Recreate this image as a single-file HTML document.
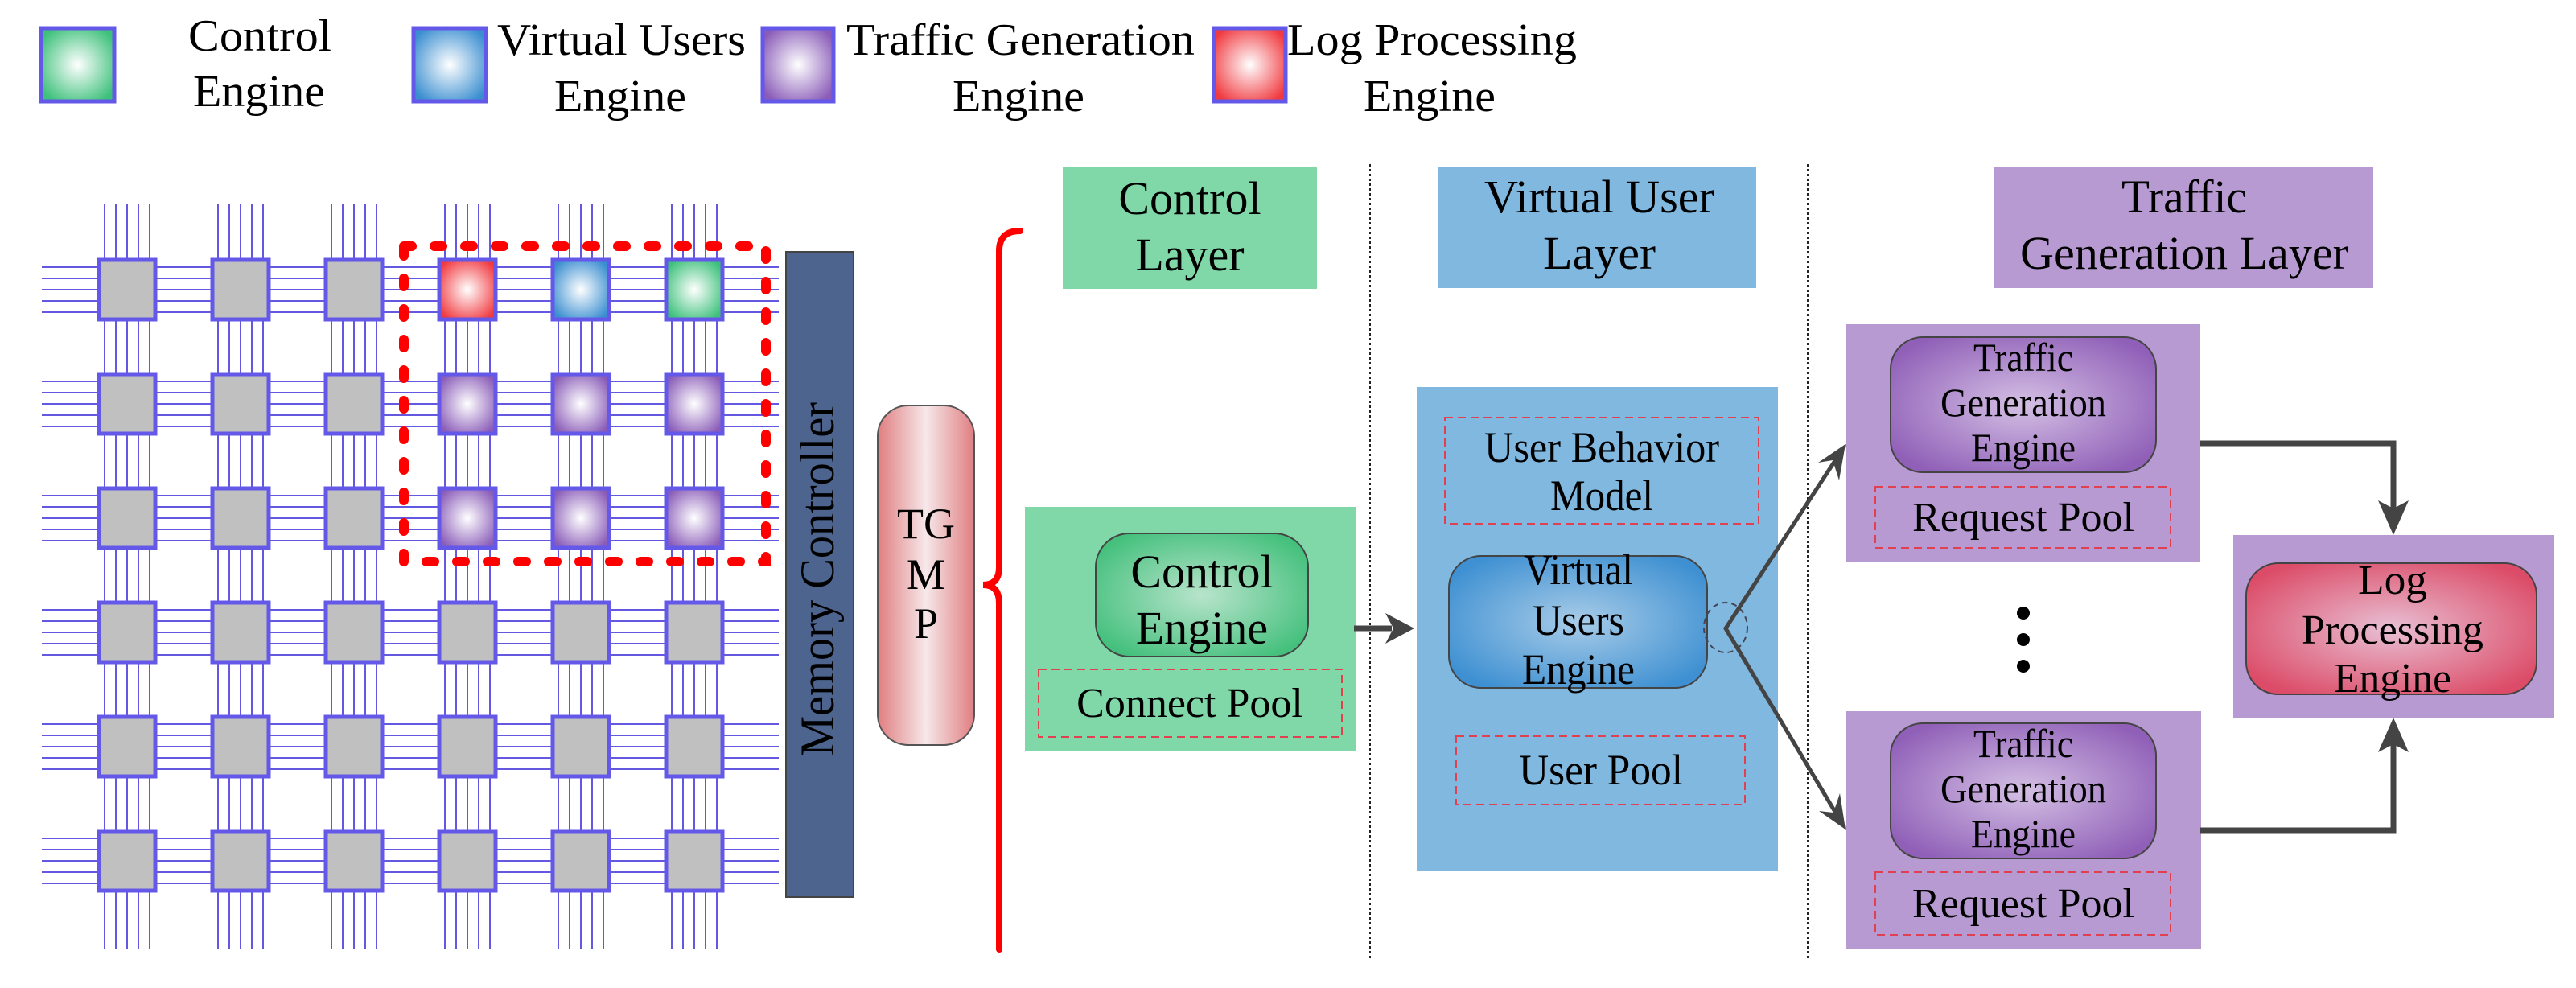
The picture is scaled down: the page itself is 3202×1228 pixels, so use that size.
<!DOCTYPE html>
<html><head><meta charset="utf-8"><style>
html,body{margin:0;padding:0;background:#fff;}
svg{display:block;font-family:"Liberation Serif","DejaVu Serif",serif;}
svg text{font-family:"Liberation Serif","DejaVu Serif",serif;fill:#000;}
</style></head><body>
<svg width="3202" height="1228" viewBox="0 0 3202 1228" xmlns="http://www.w3.org/2000/svg" font-family="Liberation Serif, DejaVu Serif, serif">
<defs>
<radialGradient id="gG" cx="50%" cy="50%" r="60%"><stop offset="0" stop-color="#ffffff"/><stop offset="1" stop-color="#3cc07a"/></radialGradient>
<radialGradient id="gB" cx="50%" cy="50%" r="60%"><stop offset="0" stop-color="#ffffff"/><stop offset="1" stop-color="#3a8ed0"/></radialGradient>
<radialGradient id="gP" cx="50%" cy="50%" r="60%"><stop offset="0" stop-color="#ffffff"/><stop offset="1" stop-color="#8a5cb8"/></radialGradient>
<radialGradient id="gR" cx="50%" cy="50%" r="60%"><stop offset="0" stop-color="#ffffff"/><stop offset="1" stop-color="#f03a40"/></radialGradient>
<radialGradient id="eG" cx="50%" cy="50%" r="60%"><stop offset="0" stop-color="#b8e4cc"/><stop offset="1" stop-color="#44c07c"/></radialGradient>
<radialGradient id="eB" cx="50%" cy="50%" r="60%"><stop offset="0" stop-color="#a8cce8"/><stop offset="1" stop-color="#3e90d2"/></radialGradient>
<radialGradient id="eP" cx="50%" cy="50%" r="60%"><stop offset="0" stop-color="#d4c0e4"/><stop offset="1" stop-color="#9060b8"/></radialGradient>
<radialGradient id="eR" cx="50%" cy="50%" r="60%"><stop offset="0" stop-color="#e8c0d4"/><stop offset="1" stop-color="#dc4c68"/></radialGradient>
<linearGradient id="eT" x1="0" y1="0" x2="1" y2="0"><stop offset="0" stop-color="#e07e80"/><stop offset="0.5" stop-color="#f6e8ea"/><stop offset="1" stop-color="#e07e80"/></linearGradient>
</defs>

<!-- Legend -->
<rect x="51" y="35" width="91" height="91" fill="url(#gG)" stroke="#6458e8" stroke-width="5"/>
<rect x="514" y="35" width="90" height="91" fill="url(#gB)" stroke="#6458e8" stroke-width="5"/>
<rect x="948" y="35" width="88" height="91" fill="url(#gP)" stroke="#6458e8" stroke-width="5"/>
<rect x="1509" y="35" width="89" height="91" fill="url(#gR)" stroke="#6458e8" stroke-width="5"/>
<g font-size="56">
<text x="234" y="63" textLength="178" lengthAdjust="spacingAndGlyphs">Control</text>
<text x="240" y="132" textLength="164" lengthAdjust="spacingAndGlyphs">Engine</text>
<text x="618" y="68" textLength="309" lengthAdjust="spacingAndGlyphs">Virtual Users</text>
<text x="689" y="138" textLength="164" lengthAdjust="spacingAndGlyphs">Engine</text>
<text x="1052" y="68" textLength="433" lengthAdjust="spacingAndGlyphs">Traffic Generation</text>
<text x="1184" y="138" textLength="164" lengthAdjust="spacingAndGlyphs">Engine</text>
<text x="1600" y="68" textLength="360" lengthAdjust="spacingAndGlyphs">Log Processing</text>
<text x="1695" y="138" textLength="164" lengthAdjust="spacingAndGlyphs">Engine</text>
</g>

<!-- Grid lines -->
<g stroke="#6458e0" stroke-width="2">
<g id="hl">
<line x1="52" y1="332" x2="968" y2="332"/><line x1="52" y1="346" x2="968" y2="346"/><line x1="52" y1="360" x2="968" y2="360"/><line x1="52" y1="374" x2="968" y2="374"/><line x1="52" y1="388" x2="968" y2="388"/>
</g>
<use href="#hl" y="142"/><use href="#hl" y="284"/><use href="#hl" y="426"/><use href="#hl" y="568"/><use href="#hl" y="710"/>
<g id="vl">
<line x1="130" y1="253" x2="130" y2="1180"/><line x1="144" y1="253" x2="144" y2="1180"/><line x1="158" y1="253" x2="158" y2="1180"/><line x1="172" y1="253" x2="172" y2="1180"/><line x1="186" y1="253" x2="186" y2="1180"/>
</g>
<use href="#vl" x="141"/><use href="#vl" x="282"/><use href="#vl" x="423"/><use href="#vl" x="564"/><use href="#vl" x="705"/>
</g>
<!-- Grid boxes -->
<g fill="#c0c0c0" stroke="#6458e8" stroke-width="5">
<g id="rw">
<rect x="123" y="323" width="70" height="74"/><rect x="264" y="323" width="70" height="74"/><rect x="405" y="323" width="70" height="74"/><rect x="546" y="323" width="70" height="74"/><rect x="687" y="323" width="70" height="74"/><rect x="828" y="323" width="70" height="74"/>
</g>
<use href="#rw" y="142"/><use href="#rw" y="284"/><use href="#rw" y="426"/><use href="#rw" y="568"/><use href="#rw" y="710"/>
</g>
<g stroke="#6458e8" stroke-width="5">
<rect x="546" y="323" width="70" height="74" fill="url(#gR)"/>
<rect x="687" y="323" width="70" height="74" fill="url(#gB)"/>
<rect x="828" y="323" width="70" height="74" fill="url(#gG)"/>
<rect x="546" y="465" width="70" height="74" fill="url(#gP)"/>
<rect x="687" y="465" width="70" height="74" fill="url(#gP)"/>
<rect x="828" y="465" width="70" height="74" fill="url(#gP)"/>
<rect x="546" y="607" width="70" height="74" fill="url(#gP)"/>
<rect x="687" y="607" width="70" height="74" fill="url(#gP)"/>
<rect x="828" y="607" width="70" height="74" fill="url(#gP)"/>
</g>
<rect x="502" y="306" width="450" height="392" fill="none" stroke="#ff0000" stroke-width="12" stroke-dasharray="10 28" stroke-linecap="round"/>

<!-- Memory controller -->
<rect x="977" y="313" width="84" height="802" fill="#4d648f" stroke="#444" stroke-width="2"/>
<text transform="translate(1036,940) rotate(-90)" font-size="60" textLength="440" lengthAdjust="spacingAndGlyphs">Memory Controller</text>

<!-- TGMP -->
<rect x="1091" y="504" width="120" height="422" rx="38" fill="url(#eT)" stroke="#555" stroke-width="2"/>
<g font-size="54" text-anchor="middle">
<text x="1151" y="669">TG</text><text x="1151" y="732">M</text><text x="1151" y="793">P</text>
</g>

<!-- Brace -->
<path d="M1268,287 Q1242,287 1242,312 L1242,705 Q1242,727 1222,727 Q1242,727 1242,750 L1242,1180" fill="none" stroke="#ff0000" stroke-width="8" stroke-linecap="round"/>

<!-- separators -->
<line x1="1703" y1="204" x2="1703" y2="1195" stroke="#222" stroke-width="2" stroke-dasharray="3 3"/>
<line x1="2247" y1="204" x2="2247" y2="1195" stroke="#222" stroke-width="2" stroke-dasharray="3 3"/>

<!-- Headers -->
<rect x="1321" y="207" width="316" height="152" fill="#80d8a8"/>
<rect x="1787" y="207" width="396" height="151" fill="#80b8e0"/>
<rect x="2478" y="207" width="472" height="151" fill="#b89ad2"/>
<g font-size="58" text-anchor="middle">
<text x="1479" y="266">Control</text><text x="1479" y="336">Layer</text>
<text x="1988" y="264" textLength="286" lengthAdjust="spacingAndGlyphs">Virtual User</text>
<text x="1988" y="334" textLength="140" lengthAdjust="spacingAndGlyphs">Layer</text>
<text x="2715" y="264" textLength="156" lengthAdjust="spacingAndGlyphs">Traffic</text>
<text x="2715" y="334" textLength="408" lengthAdjust="spacingAndGlyphs">Generation Layer</text>
</g>

<!-- Control panel -->
<rect x="1274" y="630" width="411" height="304" fill="#80d8a8"/>
<rect x="1362" y="663" width="264" height="153" rx="42" fill="url(#eG)" stroke="#444" stroke-width="2"/>
<g font-size="58" text-anchor="middle"><text x="1494" y="730">Control</text><text x="1494" y="800">Engine</text></g>
<rect x="1291" y="832" width="377" height="84" fill="none" stroke="#e04050" stroke-width="2" stroke-dasharray="10 6"/>
<text x="1479" y="891" font-size="52" text-anchor="middle">Connect Pool</text>

<!-- arrow to VU -->
<line x1="1683" y1="781" x2="1730" y2="781" stroke="#444" stroke-width="7"/>
<polygon points="1758,781 1722,762 1732,781 1722,800" fill="#444"/>

<!-- VU panel -->
<rect x="1761" y="481" width="449" height="601" fill="#80b8e0"/>
<rect x="1796" y="519" width="390" height="132" fill="none" stroke="#e04050" stroke-width="2" stroke-dasharray="10 6"/>
<g font-size="54" text-anchor="middle">
<text x="1991" y="574" textLength="292" lengthAdjust="spacingAndGlyphs">User Behavior</text>
<text x="1991" y="634" textLength="128" lengthAdjust="spacingAndGlyphs">Model</text>
</g>
<rect x="1801" y="691" width="321" height="164" rx="40" fill="url(#eB)" stroke="#444" stroke-width="2"/>
<g font-size="54" text-anchor="middle">
<text x="1962" y="726" textLength="136" lengthAdjust="spacingAndGlyphs">Virtual</text>
<text x="1962" y="789" textLength="114" lengthAdjust="spacingAndGlyphs">Users</text>
<text x="1962" y="850" textLength="140" lengthAdjust="spacingAndGlyphs">Engine</text>
</g>
<rect x="1810" y="915" width="359" height="85" fill="none" stroke="#e04050" stroke-width="2" stroke-dasharray="10 6"/>
<text x="1990" y="975" font-size="54" text-anchor="middle" textLength="204" lengthAdjust="spacingAndGlyphs">User Pool</text>
<ellipse cx="2145" cy="780" rx="27" ry="31" fill="none" stroke="#445" stroke-width="2" stroke-dasharray="7 5"/>

<!-- fork arrows -->
<path d="M2284,568 L2145,781 L2284,1014" fill="none" stroke="#444" stroke-width="5"/>
<polygon points="2294,552 2260,575 2278,572 2286,597" fill="#444"/>
<polygon points="2294,1031 2261,1008 2279,1010 2287,986" fill="#444"/>

<!-- TG panels -->
<rect x="2294" y="403" width="441" height="295" fill="#b89ad2"/>
<rect x="2350" y="419" width="330" height="168" rx="40" fill="url(#eP)" stroke="#444" stroke-width="2"/>
<g font-size="50" text-anchor="middle">
<text x="2515" y="461" textLength="124" lengthAdjust="spacingAndGlyphs">Traffic</text>
<text x="2515" y="517" textLength="206" lengthAdjust="spacingAndGlyphs">Generation</text>
<text x="2515" y="573" textLength="130" lengthAdjust="spacingAndGlyphs">Engine</text>
</g>
<rect x="2331" y="605" width="367" height="76" fill="none" stroke="#e04050" stroke-width="2" stroke-dasharray="10 6"/>
<text x="2515" y="660" font-size="52" text-anchor="middle" textLength="276" lengthAdjust="spacingAndGlyphs">Request Pool</text>

<rect x="2295" y="884" width="441" height="296" fill="#b89ad2"/>
<rect x="2350" y="899" width="330" height="168" rx="40" fill="url(#eP)" stroke="#444" stroke-width="2"/>
<g font-size="50" text-anchor="middle">
<text x="2515" y="941" textLength="124" lengthAdjust="spacingAndGlyphs">Traffic</text>
<text x="2515" y="997" textLength="206" lengthAdjust="spacingAndGlyphs">Generation</text>
<text x="2515" y="1053" textLength="130" lengthAdjust="spacingAndGlyphs">Engine</text>
</g>
<rect x="2331" y="1084" width="367" height="78" fill="none" stroke="#e04050" stroke-width="2" stroke-dasharray="10 6"/>
<text x="2515" y="1140" font-size="52" text-anchor="middle" textLength="276" lengthAdjust="spacingAndGlyphs">Request Pool</text>

<!-- dots -->
<circle cx="2515" cy="762" r="8" fill="#000"/><circle cx="2515" cy="795" r="8" fill="#000"/><circle cx="2515" cy="828" r="8" fill="#000"/>

<!-- Log panel -->
<rect x="2776" y="665" width="399" height="228" fill="#b89ad2"/>
<rect x="2792" y="700" width="361" height="163" rx="40" fill="url(#eR)" stroke="#444" stroke-width="2"/>
<g font-size="52" text-anchor="middle">
<text x="2974" y="738" textLength="86" lengthAdjust="spacingAndGlyphs">Log</text>
<text x="2974" y="800" textLength="226" lengthAdjust="spacingAndGlyphs">Processing</text>
<text x="2974" y="860" textLength="146" lengthAdjust="spacingAndGlyphs">Engine</text>
</g>

<!-- connectors to log -->
<path d="M2735,551 L2975,551 L2975,640" fill="none" stroke="#444" stroke-width="7"/>
<polygon points="2975,665 2956,622 2975,632 2994,622" fill="#444"/>
<path d="M2735,1032 L2975,1032 L2975,918" fill="none" stroke="#444" stroke-width="7"/>
<polygon points="2975,892 2956,935 2975,925 2994,935" fill="#444"/>
</svg>
</body></html>
